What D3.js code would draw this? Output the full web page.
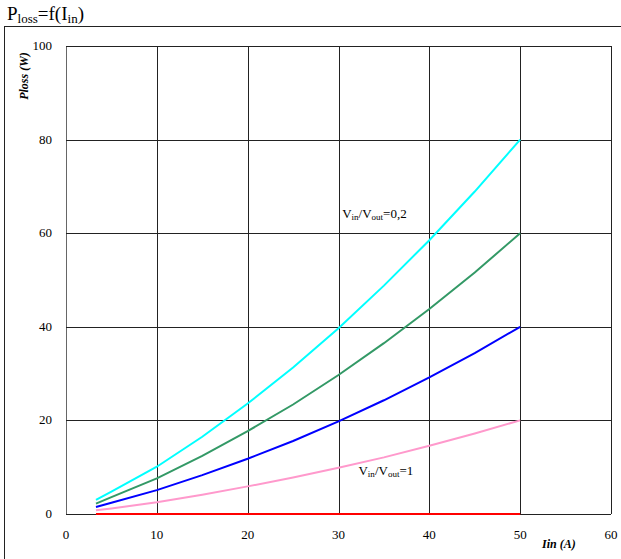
<!DOCTYPE html>
<html>
<head>
<meta charset="utf-8">
<script src="https://cdn.jsdelivr.net/npm/d3@7"></script>
<style>
body { margin: 0; background: #fff; }
svg { display: block; }
svg text { font-family: "Liberation Serif", serif; }
</style>
</head>
<body>
<script>
// values
var iin = [3.3, 5, 10, 15, 20, 25, 30, 35, 40, 45, 50];
var lossCyan  = [3.0, 4.8, 10.1, 16.5, 23.6, 31.3, 39.7, 48.8, 58.5, 68.9, 80];
var lossGreen = [2.2, 3.6, 7.6, 12.4, 17.7, 23.4, 29.7, 36.5, 43.8, 51.6, 60];
var lossBlue  = [1.5, 2.4, 5.1, 8.3, 11.8, 15.6, 19.8, 24.3, 29.2, 34.4, 40];
var lossPink  = [0.8, 1.2, 2.5, 4.1, 5.9, 7.8, 9.9, 12.1, 14.6, 17.2, 20];
var lossRed   = [0, 0, 0, 0, 0, 0, 0, 0, 0, 0, 0];
var xTicks = [0, 10, 20, 30, 40, 50, 60];
var yTicks = [0, 20, 40, 60, 80, 100];

var series = [
	{ name: 'red', values: lossRed, color: '#ff0000' },
	{ name: 'pink', values: lossPink, color: '#ff99cc' },
	{ name: 'blue', values: lossBlue, color: '#0000ff' },
	{ name: 'green', values: lossGreen, color: '#339966' },
	{ name: 'cyan', values: lossCyan, color: '#00ffff' }
];

(function() {
	var W = 621, H = 559;
	var plotLeft = 66, plotRight = 611, plotTop = 46, plotBottom = 514;

	var svg = d3.select('body').append('svg')
		.attr('width', W)
		.attr('height', H);

	var x = d3.scaleLinear().domain([0, 60]).range([plotLeft, plotRight]);
	var y = d3.scaleLinear().domain([0, 100]).range([plotBottom, plotTop]);

	// outer frame (top + left)
	svg.append('line').attr('x1', 4).attr('x2', W).attr('y1', 26.5).attr('y2', 26.5)
		.attr('stroke', '#222').attr('stroke-width', 1);
	svg.append('line').attr('x1', 4.5).attr('x2', 4.5).attr('y1', 26).attr('y2', H)
		.attr('stroke', '#222').attr('stroke-width', 1);

	// title
	var title = svg.append('text').attr('x', 7).attr('y', 20).attr('font-size', 19).attr('fill', '#000');
	title.append('tspan').text('P');
	title.append('tspan').attr('font-size', 13).attr('dy', 3).text('loss');
	title.append('tspan').attr('dy', -3).text('=f(I');
	title.append('tspan').attr('font-size', 13).attr('dy', 3).text('in');
	title.append('tspan').attr('dy', -3).text(')');

	// grid
	svg.append('g').selectAll('line').data(xTicks).enter().append('line')
		.attr('x1', function(d) { return Math.round(x(d)) + 0.5; })
		.attr('x2', function(d) { return Math.round(x(d)) + 0.5; })
		.attr('y1', plotTop).attr('y2', plotBottom)
		.attr('stroke', function(d) { return d == 0 ? '#666' : '#222'; })
		.attr('stroke-width', 1);
	svg.append('g').selectAll('line').data(yTicks).enter().append('line')
		.attr('y1', function(d) { return Math.round(y(d)) + 0.5; })
		.attr('y2', function(d) { return Math.round(y(d)) + 0.5; })
		.attr('x1', plotLeft).attr('x2', plotRight)
		.attr('stroke', '#222')
		.attr('stroke-width', 1);

	// tick labels
	svg.append('g').selectAll('text').data(yTicks).enter().append('text')
		.attr('x', 52)
		.attr('y', function(d) { return y(d) + 4; })
		.attr('text-anchor', 'end')
		.attr('font-size', 13)
		.text(function(d) { return d; });
	svg.append('g').selectAll('text').data(xTicks).enter().append('text')
		.attr('x', function(d) { return x(d); })
		.attr('y', 539)
		.attr('text-anchor', 'middle')
		.attr('font-size', 13)
		.text(function(d) { return d; });

	// axis titles
	svg.append('text')
		.attr('transform', 'translate(28,76) rotate(-90)')
		.attr('text-anchor', 'middle')
		.attr('font-size', 12)
		.attr('font-weight', 'bold')
		.attr('font-style', 'italic')
		.text('Ploss (W)');
	svg.append('text')
		.attr('x', 542).attr('y', 548)
		.attr('font-size', 12)
		.attr('font-weight', 'bold')
		.attr('font-style', 'italic')
		.text('Iin (A)');

	// curves
	var line = d3.line()
		.x(function(d, i) { return x(iin[i]); })
		.y(function(d) { return y(d); });

	svg.append('g').selectAll('path').data(series).enter().append('path')
		.attr('d', function(s) { return line(s.values); })
		.attr('fill', 'none')
		.attr('stroke', function(s) { return s.color; })
		.attr('stroke-width', 2);

	// curve labels
	function ratioLabel(px, py, val) {
		var t = svg.append('text').attr('x', px).attr('y', py).attr('font-size', 13).attr('fill', '#000');
		t.append('tspan').text('V');
		t.append('tspan').attr('font-size', 9).attr('dy', 2).text('in');
		t.append('tspan').attr('dy', -2).text('/V');
		t.append('tspan').attr('font-size', 9).attr('dy', 2).text('out');
		t.append('tspan').attr('dy', -2).text('=' + val);
	}
	ratioLabel(x(30.4), y(63.3), '0,2');
	ratioLabel(x(32.2), y(8.4), '1');
})();
</script>
</body>
</html>
